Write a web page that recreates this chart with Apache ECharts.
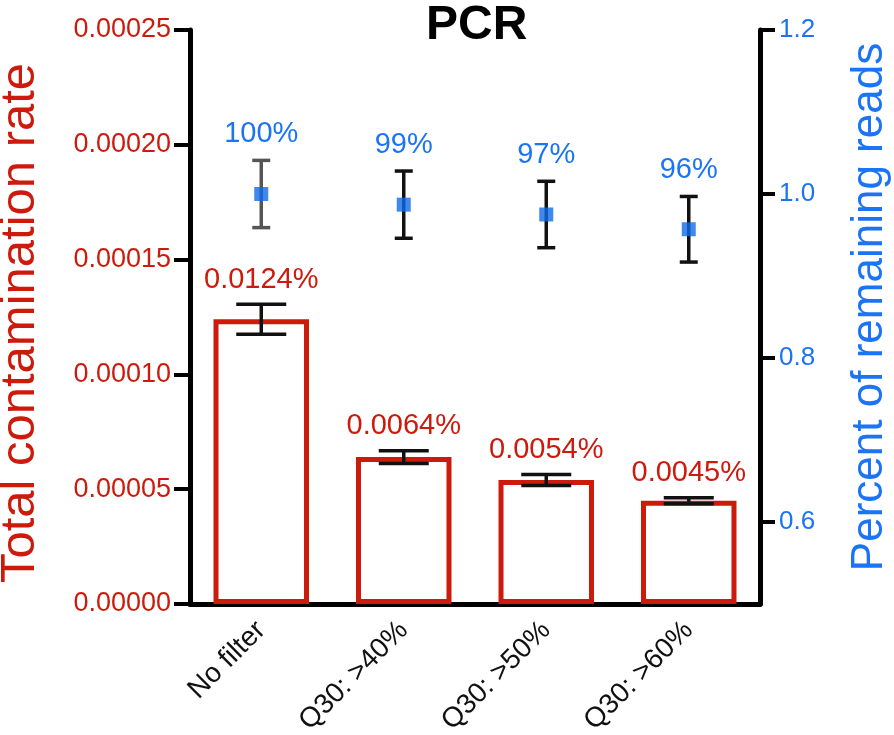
<!DOCTYPE html>
<html><head><meta charset="utf-8">
<script src="https://cdn.jsdelivr.net/npm/echarts@6/dist/echarts.min.js"></script>
<style>html,body{margin:0;padding:0;background:#fff}#c{width:894px;height:735px}</style>
</head><body><div id="c"></div>
<script>
const categories = ['No filter', 'Q30: >40%', 'Q30: >50%', 'Q30: >60%'];
const contamination = [0.000124, 0.000064, 0.000054, 0.000045];
const contaminationErr = [0.0000065, 0.0000028, 0.0000024, 0.0000013];
const contaminationLabels = ['0.0124%', '0.0064%', '0.0054%', '0.0045%'];
const remaining = [1.0, 0.987, 0.975, 0.957];
const remainingErr = [0.041, 0.041, 0.0405, 0.040];
const remainingLabels = ['100%', '99%', '97%', '96%'];
const leftTicks = [0, 0.00005, 0.0001, 0.00015, 0.0002, 0.00025];
const rightTicks = [0.6, 0.8, 1.0, 1.2];

const FONT = "'Liberation Sans', Arial, Helvetica, sans-serif";
const RED = '#cc1a0c';
const BLUE = '#1a74f5';

function errRenderer(labels, capHalf, textColor, lineColors, labelGap) {
  return function (params, api) {
    const i = api.value(0), m = api.value(1), e = api.value(2);
    const x = api.coord([i, m])[0];
    const yT = api.coord([i, m + e])[1];
    const yB = api.coord([i, m - e])[1];
    const stroke = lineColors[params.dataIndex] || '#111';
    const st = { stroke: stroke, lineWidth: 3.5 };
    return {
      type: 'group',
      children: [
        { type: 'line', shape: { x1: x, y1: yT, x2: x, y2: yB }, style: st },
        { type: 'line', shape: { x1: x - capHalf, y1: yT, x2: x + capHalf, y2: yT }, style: st },
        { type: 'line', shape: { x1: x - capHalf, y1: yB, x2: x + capHalf, y2: yB }, style: st },
        { type: 'text', x: x, y: yT - labelGap,
          style: { text: labels[params.dataIndex], fill: textColor, fontSize: 29,
                   fontFamily: FONT, align: 'center', verticalAlign: 'bottom' } }
      ]
    };
  };
}

const chart = echarts.init(document.getElementById('c'));
chart.setOption({
  animation: false,
  backgroundColor: '#fff',
  title: {
    text: 'PCR', left: 421, top: -3,
    textStyle: { fontSize: 48, fontWeight: 'bold', color: '#000', fontFamily: FONT }
  },
  grid: { left: 190, right: 134, top: 30, bottom: 131, containLabel: false, outerBoundsMode: 'none' },
  xAxis: {
    type: 'category', data: categories,
    axisLine: { lineStyle: { color: '#000', width: 5 } },
    axisTick: { alignWithLabel: true, length: 12, lineStyle: { color: '#000', width: 4 } },
    axisLabel: { rotate: 45, fontSize: 28, color: '#111', margin: 22, fontFamily: FONT, interval: 0 },
    splitLine: { show: false }
  },
  yAxis: [
    {
      type: 'value', min: 0, max: 0.00025, interval: 0.00005, position: 'left',
      name: 'Total contamination rate', nameLocation: 'middle', nameRotate: 90, nameGap: 145,
      nameTextStyle: { fontSize: 49, color: RED, fontFamily: FONT, padding: [0, 12, 0, 0] },
      axisLine: { show: true, lineStyle: { color: '#000', width: 5 } },
      axisTick: { show: true, length: 16, lineStyle: { color: '#000', width: 4 } },
      axisLabel: { color: RED, fontSize: 27, fontFamily: FONT, margin: 19,
                   formatter: v => v.toFixed(5) },
      splitLine: { show: false }
    },
    {
      type: 'value', min: 0.5, max: 1.2, position: 'right',
      name: 'Percent of remaining reads', nameLocation: 'middle', nameRotate: 90, nameGap: 88,
      nameTextStyle: { fontSize: 44, color: BLUE, fontFamily: FONT, padding: [0, 0, 0, 20] },
      axisLine: { show: true, lineStyle: { color: '#000', width: 5 } },
      axisTick: { show: true, length: 15, lineStyle: { color: '#000', width: 4 }, customValues: rightTicks },
      axisLabel: { color: BLUE, fontSize: 26, fontFamily: FONT, margin: 19, customValues: rightTicks,
                   formatter: v => v.toFixed(1) },
      splitLine: { show: false }
    }
  ],
  series: [
    {
      type: 'bar', yAxisIndex: 0, data: contamination, barWidth: '67%',
      itemStyle: { color: '#fff', borderColor: RED, borderWidth: 5 }, z: 2
    },
    {
      type: 'custom', yAxisIndex: 0, z: 5,
      data: contamination.map((v, i) => [i, v, contaminationErr[i]]),
      renderItem: errRenderer(contaminationLabels, 25, RED, [], 10)
    },
    {
      type: 'custom', yAxisIndex: 1, z: 5,
      data: remaining.map((v, i) => [i, v, remainingErr[i]]),
      renderItem: errRenderer(remainingLabels, 9, BLUE, ['#555'], 12)
    },
    {
      type: 'scatter', yAxisIndex: 1, data: remaining, symbol: 'rect', symbolSize: 14,
      itemStyle: { color: '#0f6ae8' }, z: 6
    }
  ]
});
</script>
</body></html>
